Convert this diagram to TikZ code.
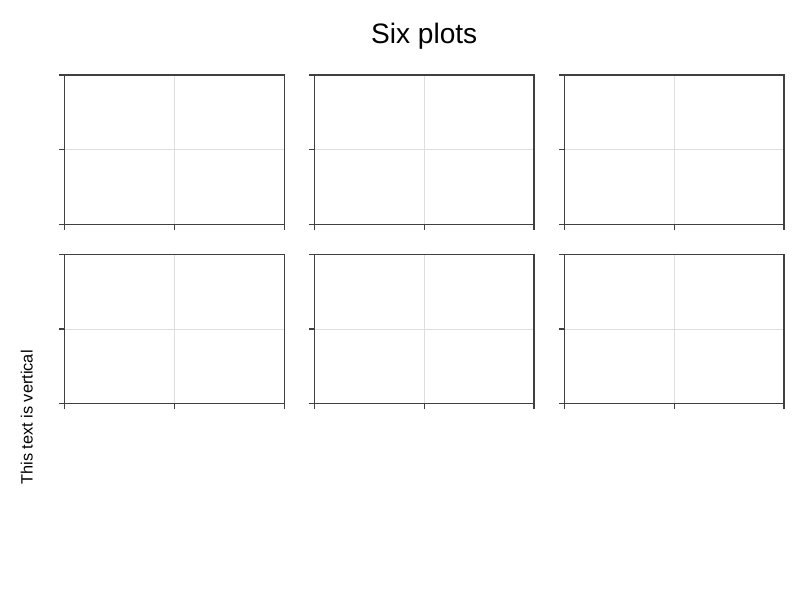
\documentclass[tikz,border=0pt]{standalone}
\usepackage{fontspec}
\setmainfont{Liberation Sans}
\usetikzlibrary{positioning}
\tikzset{
    panel/.style={rectangle, draw=black!75, line width=0.9pt, minimum width=2.193in, minimum height=1.495in, inner sep=0pt, outer sep=0pt,
        path picture={\draw[gridline] (path picture bounding box.north) -- (path picture bounding box.south) (path picture bounding box.west) -- (path picture bounding box.east);}},
    gridline/.style={black!13, line width=0.6pt},
    axtick/.style={black!75, line width=0.9pt},
    suptitle/.style={font=\fontsize{20.3pt}{23pt}\selectfont, anchor=base},
    ylab/.style={font=\fontsize{11.8pt}{13pt}\selectfont, rotate=90, anchor=base}
}

\begin{document}
\begin{tikzpicture}[x=0.01in, y=-0.01in, node distance=0.296in]

    \useasboundingbox (0,0) rectangle (800,600);

    % Title
    \node[suptitle] (title) at (424.2,43.5) {Six plots};

    % Top row
    \node[panel] (A1) at (174.5,149.85) {};
    \node[panel, right=0.304in of A1] (A2) {};
    \node[panel, right=0.304in of A2] (A3) {};

    % Bottom row
    \node[panel, below=of A1] (B1) {};
    \node[panel, below=of A2] (B2) {};
    \node[panel, below=of A3] (B3) {};

    % Ticks (outside, left and bottom)
    \foreach \p in {A1,A2,A3,B1,B2,B3} {
        \draw[axtick] (\p.north west) -- ++(-5.5,0);
        \draw[axtick] (\p.west) -- ++(-5.5,0);
        \draw[axtick] (\p.south west) -- ++(-5.5,0);
        \draw[axtick] (\p.south west) -- ++(0,5.5);
        \draw[axtick] (\p.south) -- ++(0,5.5);
        \draw[axtick] (\p.south east) -- ++(0,5.5);
    }

    % Vertical label
    \node[ylab] (vlabel) at (32.7,417.5) {This text is vertical};

\end{tikzpicture}
\end{document}
